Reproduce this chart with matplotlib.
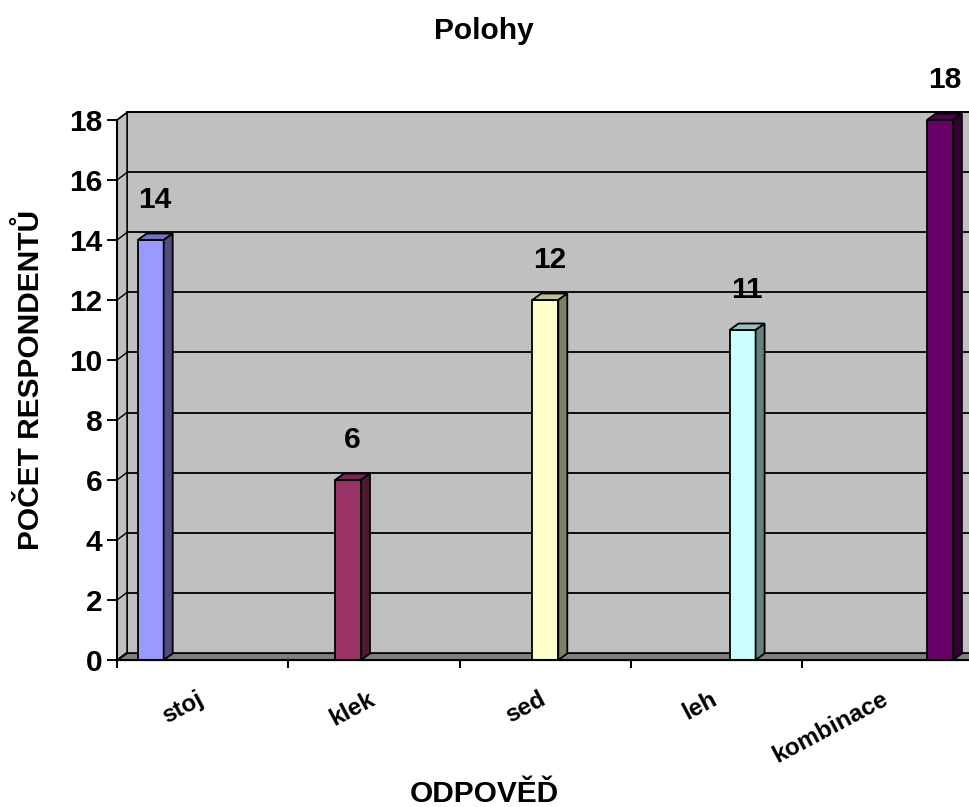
import numpy as np
import matplotlib
matplotlib.use("Agg")
import matplotlib.pyplot as plt
from matplotlib.patches import Polygon

categories = ["stoj", "klek", "sed", "leh", "kombinace"]
values = [14, 6, 12, 11, 18]
front_colors = ["#9999FF", "#993366", "#FFFFCC", "#CCFFFF", "#660066"]
y_ticks = list(range(0, 19, 2))

plt.rcParams['font.family'] = ['Liberation Sans', 'DejaVu Sans']
plt.rcParams['font.weight'] = 'bold'

W, H = 969, 807
fig = plt.figure(figsize=(W / 100, H / 100), dpi=100)
# axes placed in pixels: left 117, bottom at y=660, top at y=120
ax = fig.add_axes([117 / W, (H - 660) / H, (W - 117) / W, 540 / H])
px_x = 171.25   # pixels per category slot
px_y = 30.0     # pixels per unit value
xmax = (W - 117) / px_x
ax.set_xlim(0, xmax)
ax.set_ylim(0, 18)

# depth of the 3d look, in data units
wdx, wdy = 10 / px_x, 7.5 / px_y
bdx, bdy = 9 / px_x, 6.5 / px_y

ax.patch.set_visible(False)

# back wall, side wall, floor
ax.add_patch(Polygon([(wdx, wdy), (xmax + 1, wdy), (xmax + 1, 18 + wdy), (wdx, 18 + wdy)],
                     closed=True, fc="#C0C0C0", ec="black", lw=1.2, clip_on=False, zorder=0))
ax.add_patch(Polygon([(0, 0), (wdx, wdy), (wdx, 18 + wdy), (0, 18)],
                     closed=True, fc="#C0C0C0", ec="black", lw=1.0, clip_on=False, zorder=0.5))
ax.add_patch(Polygon([(0, 0), (xmax + 1, 0), (xmax + 1, wdy), (wdx, wdy)],
                     closed=True, fc="#808080", ec="black", lw=0.8, clip_on=False, zorder=0.5))

# gridlines on the walls
for v in y_ticks[1:]:
    ax.plot([wdx, xmax + 1], [v + wdy, v + wdy], color="black", lw=1.3, clip_on=False, zorder=1)
for v in y_ticks:
    ax.plot([0, wdx], [v, v + wdy], color="black", lw=1.0, clip_on=False, zorder=1)


def shade(c, f):
    r, g, b = matplotlib.colors.to_rgb(c)
    return (r * f, g * f, b * f)


bar_w = 26 / px_x
bar_step = 197.3 / px_x
bar_start = 20.7 / px_x
xs = [bar_start + i * bar_step for i in range(len(values))]

ax.bar(xs, values, width=bar_w, align="edge", color=front_colors,
       edgecolor="black", linewidth=1.3, zorder=3)
for x, v, c in zip(xs, values, front_colors):
    top = [(x, v), (x + bar_w, v), (x + bar_w + bdx, v + bdy), (x + bdx, v + bdy)]
    side = [(x + bar_w, 0), (x + bar_w + bdx, bdy), (x + bar_w + bdx, v + bdy), (x + bar_w, v)]
    ax.add_patch(Polygon(top, closed=True, fc=shade(c, 0.75), ec="black", lw=1.3, zorder=3, clip_on=False))
    ax.add_patch(Polygon(side, closed=True, fc=shade(c, 0.5), ec="black", lw=1.3, zorder=3, clip_on=False))
    ax.annotate(str(v), (x + (bar_w + bdx) / 2, v), xytext=(0, 29), textcoords="offset points",
                ha="center", va="center", fontsize=21.5, fontweight="bold",
                annotation_clip=False, zorder=5)

# axes styling
for s in ["top", "right"]:
    ax.spines[s].set_visible(False)
for s in ["left", "bottom"]:
    ax.spines[s].set_linewidth(1.5)
    ax.spines[s].set_zorder(4)
ax.set_yticks(y_ticks)
ax.set_yticklabels([str(t) for t in y_ticks], fontsize=21.5, fontweight="bold")
ax.tick_params(axis="y", length=7.2, width=1.4, pad=3.5)
ax.set_xticks(range(0, 5))
ax.set_xticklabels([])
ax.tick_params(axis="x", length=6, width=1.4)

for i, name in enumerate(categories):
    ax.annotate(name, (i + 0.5, 0), xytext=(-4.5, -20), textcoords="offset points",
                ha="right", va="top", rotation=28, rotation_mode="anchor",
                fontsize=17.5, fontweight="bold", annotation_clip=False)

fig.text(484 / W, 1 - 31 / H, "Polohy", ha="center", va="center", fontsize=21.5, fontweight="bold")
fig.text(484 / W, 1 - 794 / H, "ODPOVĚĎ", ha="center", va="center", fontsize=21.5, fontweight="bold")
fig.text(31 / W, 1 - 380 / H, "POČET RESPONDENTŮ", ha="center", va="center",
         rotation=90, fontsize=21.5, fontweight="bold")

fig.savefig("out.png", dpi=100)
